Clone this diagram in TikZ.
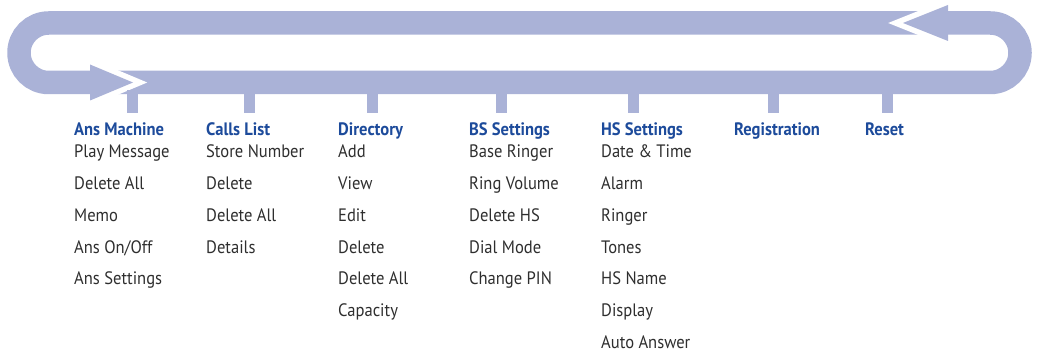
\documentclass[tikz,border=0pt]{standalone}
\usepackage{fontspec}
\setmainfont{PT Sans}[FakeStretch=0.92]
\definecolor{band}{HTML}{AAB2D7}
\definecolor{headc}{HTML}{1D4B9B}
\definecolor{txtc}{HTML}{2E2E2E}
\tikzset{
  headnode/.style={anchor=base west, inner sep=0pt, text=headc, font=\fontsize{18}{20}\selectfont\bfseries},
  itemnode/.style={anchor=base west, inner sep=0pt, text=txtc, font=\fontsize{18}{20}\selectfont},
  stub/.style={draw=band, line width=11pt},
}
\begin{document}
\begin{tikzpicture}[x=1pt,y=-1pt]
\useasboundingbox (0,0) rectangle (1037,352);
% loop band
\draw[band, line width=23.5pt, rounded corners=29.7pt] (19,23) rectangle (1020,82.5);
% bottom-left arrow (pointing right)
\begin{scope}
\clip (90,0) rectangle (220,130);
\draw[white, line width=11pt, line join=miter] (90,64.5) -- (133,82.5) -- (90,100.5);
\end{scope}
\fill[band] (90,64.5) -- (133,82.5) -- (90,100.5) -- cycle;
% top-right arrow (pointing left)
\begin{scope}
\clip (800,-10) rectangle (948,60);
\draw[white, line width=11pt, line join=miter] (948,5) -- (903,23) -- (948,41);
\end{scope}
\fill[band] (948,5) -- (903,23) -- (948,41) -- cycle;
% stubs
\foreach \sx in {132.5,249,372,501.5,633.5,773,887}
  \draw[stub] (\sx,90) -- (\sx,113);
% columns
\node[headnode] (am) at (74,135.5) {Ans Machine};
\foreach \t [count=\i] in {Play Message,Delete All,Memo,Ans On/Off,Ans Settings}
  \node[itemnode] (am\i) at (74,{157.7+31.8*(\i-1)}) {\t};
\node[headnode] (cl) at (206,135.5) {Calls List};
\foreach \t [count=\i] in {Store Number,Delete,Delete All,Details}
  \node[itemnode] (cl\i) at (206,{157.7+31.8*(\i-1)}) {\t};
\node[headnode] (dir) at (338,135.5) {Directory};
\foreach \t [count=\i] in {Add,View,Edit,Delete,Delete All,Capacity}
  \node[itemnode] (dir\i) at (338,{157.7+31.8*(\i-1)}) {\t};
\node[headnode] (bs) at (469,135.5) {BS Settings};
\foreach \t [count=\i] in {Base Ringer,Ring Volume,Delete HS,Dial Mode,Change PIN}
  \node[itemnode] (bs\i) at (469,{157.7+31.8*(\i-1)}) {\t};
\node[headnode] (hs) at (601,135.5) {HS Settings};
\foreach \t [count=\i] in {Date \& Time,Alarm,Ringer,Tones,HS Name,Display,Auto Answer}
  \node[itemnode] (hs\i) at (601,{157.7+31.8*(\i-1)}) {\t};
\node[headnode] (reg) at (734,135.5) {Registration};
\node[headnode] (rst) at (865,135.5) {Reset};
\end{tikzpicture}
\end{document}
